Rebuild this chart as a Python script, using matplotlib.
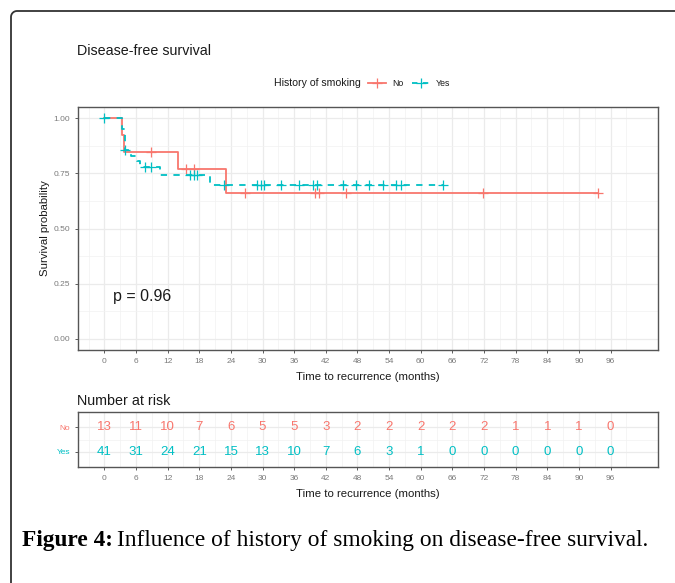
import numpy as np
import matplotlib
matplotlib.use("Agg")
import matplotlib.pyplot as plt
from matplotlib.lines import Line2D

plt.rcParams['font.family'] = ['Liberation Sans', 'DejaVu Sans']

# Kaplan-Meier steps (time in months, survival)
no_t = [0, 3.3, 3.8, 14.0, 23.0]
no_s = [1.0, 0.923, 0.846, 0.769, 0.659]
no_end = 93.7
no_cens = [8.9, 15.5, 17.0, 26.7, 39.9, 40.7, 45.8, 71.8, 93.7]

yes_t = [0, 3.3, 3.9, 5.0, 6.1, 6.8, 10.6, 20.0]
yes_s = [1.0, 0.951, 0.854, 0.829, 0.804, 0.778, 0.741, 0.697]
yes_end = 64.2
yes_cens = [0, 3.9, 7.8, 8.9, 16.2, 17.0, 17.6, 22.7, 29.0, 29.7, 30.3, 33.5,
            37.0, 39.5, 40.3, 45.2, 47.7, 50.2, 52.8, 55.3, 56.3, 64.2]

risk_times = list(range(0, 97, 6))
risk_no = [13, 11, 10, 7, 6, 5, 5, 3, 2, 2, 2, 2, 2, 1, 1, 1, 0]
risk_yes = [41, 31, 24, 21, 15, 13, 10, 7, 6, 3, 1, 0, 0, 0, 0, 0, 0]

p_value = 0.96

RED = '#F8766D'
CYAN = '#00BFC4'
INK = '#1A1A1A'
W, H = 675, 583


def fx(px):
    return px / W


def fy(py):
    return 1 - py / H


def surv_at(t, steps_t, steps_s):
    i = np.searchsorted(steps_t, t, side='right') - 1
    return np.asarray(steps_s)[i]


def style_panel(ax, ymajor, yminor):
    ax.set_xlim(-5, 105)
    ax.set_xticks(risk_times)
    ax.set_xticks(np.arange(-3, 105, 6), minor=True)
    ax.set_yticks(ymajor)
    ax.set_yticks(yminor, minor=True)
    ax.grid(True, which='major', color='#EBEBEB', lw=0.9)
    ax.grid(True, which='minor', color='#F2F2F2', lw=0.5)
    ax.set_axisbelow(True)
    for sp in ax.spines.values():
        sp.set_color('#555555')
        sp.set_linewidth(1.0)
    ax.tick_params(which='major', length=2.5, width=0.6, color='#444444',
                   labelcolor='#7A7A7A', labelsize=6, pad=3)
    ax.tick_params(which='minor', length=0)


fig = plt.figure(figsize=(W / 100, H / 100), dpi=100)

# outer frame: left and top edges with a rounded corner
r = 6
ang = np.linspace(np.pi, np.pi / 2, 12)
fx_pts = [11, 11] + list(11 + r + r * np.cos(ang)) + [W + 5]
fy_pts = [H + 5, 11 + r] + list(11 + r - r * np.sin(ang)) + [11]
fig.add_artist(Line2D([fx(v) for v in fx_pts], [fy(v) for v in fy_pts],
                      transform=fig.transFigure, color='#333333', lw=1.3))

ax = fig.add_axes([fx(78), fy(350), fx(658) - fx(78), fy(107) - fy(350)])
style_panel(ax, [0, 0.25, 0.5, 0.75, 1.0], [0.125, 0.375, 0.625, 0.875])
ax.set_ylim(-0.05, 1.05)
ax.set_yticklabels(['0.00', '0.25', '0.50', '0.75', '1.00'])

for st, ss, end, cens, col, ls in [(no_t, no_s, no_end, no_cens, RED, '-'),
                                   (yes_t, yes_s, yes_end, yes_cens, CYAN, (0, (3.5, 3.5)))]:
    tt = list(st) + [end]
    sv = list(ss) + [ss[-1]]
    ax.step(tt, sv, where='post', color=col, lw=1.3, ls=ls)
    cy = [surv_at(c, st, ss) for c in cens]
    ax.plot(cens, cy, ls='none', marker='+', ms=7, mew=0.9, color=col)

ax.text(1.7, 0.19, f'p = {p_value:.2f}', fontsize=11.5, color=INK,
        ha='left', va='center')
ax.set_ylabel('Survival probability', fontsize=8.2, color=INK, labelpad=3)
ax.set_xlabel('Time to recurrence (months)', fontsize=8.2, color=INK, labelpad=5)

fig.text(fx(77), fy(51), 'Disease-free survival', fontsize=10.3, color=INK,
         ha='left', va='center')

# legend row
fig.text(fx(274), fy(83), 'History of smoking', fontsize=7.6, color=INK,
         ha='left', va='center')
for x0, col, ls, lab in [(368, RED, '-', 'No'), (412, CYAN, (0, (3, 3)), 'Yes')]:
    fig.add_artist(Line2D([fx(x0), fx(x0 + 18)], [fy(83), fy(83)],
                          transform=fig.transFigure, color=col, lw=1.3, ls=ls))
    fig.add_artist(Line2D([fx(x0 + 9)], [fy(83)], transform=fig.transFigure,
                          marker='+', ms=7, mew=0.9, color=col, ls='none'))
    fig.text(fx(x0 + 24), fy(83), lab, fontsize=6.3, color=INK,
             ha='left', va='center')

# number at risk table
rax = fig.add_axes([fx(78), fy(467), fx(658) - fx(78), fy(412) - fy(467)])
style_panel(rax, [1, 2], [1.5])
rax.set_ylim(0.4, 2.6)
rax.set_yticklabels(['Yes', 'No'])
for lbl, col in zip(rax.get_yticklabels(), [CYAN, RED]):
    lbl.set_color(col)
for t, n in zip(risk_times, risk_no):
    rax.text(t, 2, str(n), color=RED, fontsize=9.5, ha='center', va='center')
for t, n in zip(risk_times, risk_yes):
    rax.text(t, 1, str(n), color=CYAN, fontsize=9.5, ha='center', va='center')
rax.set_xlabel('Time to recurrence (months)', fontsize=8.2, color=INK, labelpad=5)
fig.text(fx(77), fy(401), 'Number at risk', fontsize=10.3, color=INK,
         ha='left', va='center')

# caption: bold label followed by regular text
cap_fs = 16.8
t1 = fig.text(fx(22), fy(546), 'Figure 4:', fontsize=cap_fs, fontweight='bold',
              family='Liberation Serif', color='black', ha='left', va='baseline')
fig.canvas.draw()
bb = t1.get_window_extent()
fig.text(fig.transFigure.inverted().transform((bb.x1, 0))[0] + fx(4), fy(546),
         'Influence of history of smoking on disease-free survival.',
         fontsize=cap_fs, family='Liberation Serif', color='black',
         ha='left', va='baseline')

fig.savefig('out.png', dpi=100)
